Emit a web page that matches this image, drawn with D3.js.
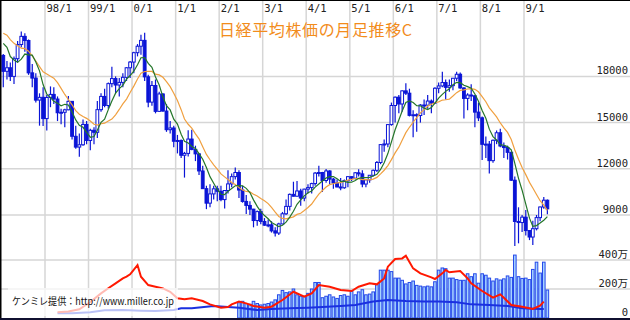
<!DOCTYPE html>
<html>
<head>
<meta charset="utf-8">
<script src="https://cdn.jsdelivr.net/npm/d3@7"></script>
<style>
  body { margin: 0; background: #fff; }
  svg { display: block; }
</style>
</head>
<body>
<svg id="chart" width="630" height="320"></svg>
<script>
// monthly candles, 1997/1 .. 2009/7 (last month still open)
var firstMonth = "1997/1";

var opens = [
  19360,18330,18560,18000,19150,20070,20600,20330,18230,17890,16460,16640,
  15260,16630,16830,16530,15640,15670,15830,16380,14110,13410,13560,14880,
  13840,14500,14370,15840,16700,16110,17530,17860,17440,17610,17940,18560,
  18930,19540,19960,20340,17970,16330,17410,15730,16860,15750,14540,14650,
  13790,13840,12880,13000,13930,13260,12970,11860,10710,9770,10370,10700,
  10540,10000,10590,11020,11490,11760,10620,9880,9620,9380,8640,9220,
  8580,8340,8360,7970,7830,8420,9080,9560,10340,10220,10560,10100,
  10680,10780,11040,11720,11760,11240,11860,11330,11080,10820,10770,11230,
  11490,11390,11740,11670,11010,11280,11580,11900,12410,13570,13610,14870,
  16110,16650,16210,17060,16910,15470,15510,15460,16140,16130,16400,16270,
  17230,17380,17600,17290,17400,17880,18140,17250,16570,16790,16740,15680,
  15310,13590,13600,12530,13850,14340,13480,13380,13070,11260,8580,8510,
  8860,7990,7570,8110,8830,9520,9960
];
var highs = [
  19450,19000,18900,19300,20300,20910,20800,20400,18800,18200,16900,17300,
  16800,17350,17300,16700,15900,15900,16730,16400,14800,14300,15200,15100,
  14600,14700,16400,16900,17200,17600,18620,18000,17900,18200,18600,19000,
  19600,20100,20700,20830,18100,17700,17800,17000,16900,16200,15100,14800,
  14200,13900,13100,14500,14530,13500,13000,12200,10900,11000,10900,10900,
  10900,10600,11900,11700,12080,11900,10900,10300,9900,9400,9300,9400,
  8800,8700,8600,8200,8500,9200,10000,10400,11160,11200,10700,10700,
  11000,11100,11800,12200,11800,11990,11900,11400,11300,11400,11300,11500,
  11500,11800,11970,11900,11300,11600,11950,12500,13600,13900,14900,16300,
  16700,16800,17100,17560,17200,15800,15600,16200,16500,16800,16500,17300,
  17600,18300,17800,17800,17900,18300,18260,17300,16900,17490,16800,16300,
  15400,14100,13800,13900,14490,14600,13700,13500,13100,11500,9500,9000,
  9330,8000,8630,9000,9560,10170,10000
];
var lows = [
  17300,17800,17700,17500,18900,19900,19600,18100,17300,16300,14800,14780,
  14490,16000,16200,15100,14900,14700,15800,13900,13300,12790,13500,13600,
  13200,13600,14000,15700,16000,15900,17300,16900,16700,17300,17700,17900,
  18200,19300,19400,17700,16000,16100,15600,15700,15700,14400,14300,13400,
  13000,12700,11430,12800,13200,12500,11600,10700,9380,9500,10000,9900,
  9900,9420,10400,10800,11300,10100,9800,9070,9000,8200,8300,8400,
  8300,8200,7860,7600,7700,8400,9000,9300,10200,10200,9600,9900,
  10400,10400,10900,11500,10500,11100,11000,10700,10800,10600,10700,10800,
  11200,11300,11500,10800,10800,11100,11500,11800,12300,13100,13400,14800,
  15000,15600,15700,16800,15400,14050,14400,15000,15500,15900,15600,16200,
  16900,17300,16500,17000,17100,17700,17200,15270,15800,16400,14700,15100,
  12570,12700,11690,12400,13600,13400,12700,12600,11200,6990,7160,7900,
  7670,7370,7050,8000,8600,9400,9050
];
var closes = [
  18330,18560,18000,19150,20070,20600,20330,18230,17890,16460,16640,15260,
  16630,16830,16530,15640,15670,15830,16380,14110,13410,13560,14880,13840,
  14500,14370,15840,16700,16110,17530,17860,17440,17610,17940,18560,18930,
  19540,19960,20340,17970,16330,17410,15730,16860,15750,14540,14650,13790,
  13840,12880,13000,13930,13260,12970,11860,10710,9770,10370,10700,10540,
  10000,10590,11020,11490,11760,10620,9880,9620,9380,8640,9220,8580,
  8340,8360,7970,7830,8420,9080,9560,10340,10220,10560,10100,10680,
  10780,11040,11720,11760,11240,11860,11330,11080,10820,10770,11230,11490,
  11390,11740,11670,11010,11280,11580,11900,12410,13570,13610,14870,16110,
  16650,16210,17060,16910,15470,15510,15460,16140,16130,16400,16270,17230,
  17380,17600,17290,17400,17880,18140,17250,16570,16790,16740,15680,15310,
  13590,13600,12530,13850,14340,13480,13380,13070,11260,8580,8510,8860,
  7990,7570,8110,8830,9520,9960,9400
];
// closes of 1996/2..1996/12, only used to start the moving averages
var priorCloses = [20125,21407,22041,21956,22531,20693,20167,21556,20466,21020,19361];

// volume bars (万), 2002/6 .. 2009/7
var volFirstMonth = "2002/6";
var volumes = [
  105,115,100,95,115,100,90,
  95,100,110,125,160,190,175,180,200,160,150,150,
  170,200,245,245,140,150,160,145,135,155,160,150,
  185,160,180,195,160,165,180,230,330,330,330,320,
  275,275,260,235,245,255,225,220,215,220,215,250,
  330,345,340,275,275,265,260,260,305,285,305,240,
  305,295,275,255,270,262,270,290,280,434,285,273,
  275,265,335,385,310,385,193
];

// red line in the lower panel
var redMonths = ["1998/4","1998/7","1998/10","1999/1","1999/4","1999/6","1999/8","1999/10","1999/11","1999/12",
  "2000/2","2000/3","2000/5","2000/7","2000/9","2000/11","2001/1","2001/3","2001/5","2001/8","2001/10",
  "2002/1","2002/3","2002/4","2002/6","2002/8","2002/10","2003/1","2003/3","2003/6","2003/9","2003/12",
  "2004/2","2004/4","2004/7","2004/10","2005/1","2005/3","2005/6","2005/8","2005/10","2005/11",
  "2006/1","2006/3","2006/4","2006/6","2006/8","2006/11","2006/12","2007/2","2007/3","2007/4","2007/7",
  "2007/9","2007/10","2008/1","2008/4","2008/6","2008/7","2008/9","2008/12","2009/3","2009/5","2009/6"];
var redValues = [40,45,60,110,170,205,239,273,285,301,
  365,285,227,216,204,181,136,129,136,117,94,
  71,76,94,113,101,83,71,78,124,181,147,
  170,227,216,193,186,216,239,232,273,354,
  407,411,430,342,308,280,269,308,331,315,324,
  273,239,186,140,163,140,90,78,62,85,113];

// blue line in the lower panel
var blueMonths = ["1998/4","1998/8","1999/1","1999/5","1999/10","2000/3","2000/7","2000/12","2001/2","2001/5",
  "2001/9","2001/11","2002/3","2002/6","2002/11","2003/3","2003/8","2004/1","2004/5","2004/10","2005/2",
  "2005/7","2005/11","2006/4","2006/9","2007/1","2007/6","2007/10","2008/3","2008/8","2008/12","2009/5","2009/6"];
var blueValues = [32,32,39,53,55,50,48,55,67,67,
  78,83,76,71,55,62,67,71,76,83,90,
  113,124,117,113,113,108,94,90,83,67,62,62];

var xTicks = ["1998/1","1999/1","2000/1","2001/1","2002/1","2003/1","2004/1","2005/1","2006/1","2007/1","2008/1","2009/1"];
var xTickLabels = ["98/1","99/1","0/1","1/1","2/1","3/1","4/1","5/1","6/1","7/1","8/1","9/1"];
var priceTicks = [9000, 12000, 15000, 18000];
var volTicks = [0, 200, 400];
var volTickLabels = ["0", "200万", "400万"];

var title = "日経平均株価の月足推移C";
var credit = "ケンミレ提供：http://www.miller.co.jp";

var svg = d3.select("#chart"),
    width = +svg.attr("width"),
    height = +svg.attr("height");

var parseMonth = d3.timeParse("%Y/%m");
var mid = function(d) { return d3.timeDay.offset(d, 15); };

var x = d3.scaleTime()
    .domain([new Date(1998, 0, 1), new Date(2009, 0, 1)])
    .range([45, 524]);
var y = d3.scaleLinear().domain([9000, 18000]).range([215, 76.4]);
var yv = d3.scaleLinear().domain([0, 400]).range([318, 260]);

var blue = "#0a14d6";

var candles = closes.map(function(c, i) {
  return { date: mid(d3.timeMonth.offset(parseMonth(firstMonth), i)),
           o: opens[i], h: highs[i], l: lows[i], c: c };
});

// moving averages (6 and 12 months) of the close
var allCloses = priorCloses.concat(closes);
function movingAvg(n) {
  return candles.map(function(d, i) {
    var k = i + priorCloses.length;
    return { date: d.date, v: d3.mean(allCloses.slice(k - n + 1, k + 1)) };
  });
}

svg.append("rect").attr("width", width).attr("height", height).attr("fill", "#fff");

// grid
var grid = svg.append("g").attr("stroke", "#d6d6d6").attr("stroke-width", 1.5);
grid.selectAll(".vx").data(xTicks).enter().append("line")
    .attr("x1", function(d) { return x(parseMonth(d)); })
    .attr("x2", function(d) { return x(parseMonth(d)); })
    .attr("y1", 0).attr("y2", height);
grid.selectAll(".hy").data(priceTicks).enter().append("line")
    .attr("x1", 0).attr("x2", width)
    .attr("y1", function(d) { return y(d); }).attr("y2", function(d) { return y(d); });
grid.selectAll(".hv").data(volTicks.slice(1)).enter().append("line")
    .attr("x1", 0).attr("x2", width)
    .attr("y1", function(d) { return yv(d); }).attr("y2", function(d) { return yv(d); });

var tickFont = "'DejaVu Sans Mono', monospace";
svg.append("g").selectAll("text").data(xTicks).enter().append("text")
    .attr("x", function(d) { return x(parseMonth(d)) + 1.5; })
    .attr("y", 12)
    .attr("font-family", tickFont).attr("font-size", 10.5).attr("fill", "#222")
    .text(function(d, i) { return xTickLabels[i]; });

svg.append("g").selectAll("text").data(priceTicks).enter().append("text")
    .attr("x", 628).attr("y", function(d) { return y(d) - 2; })
    .attr("text-anchor", "end")
    .attr("font-family", tickFont).attr("font-size", 10.5).attr("fill", "#222")
    .text(function(d) { return d; });

svg.append("g").selectAll("text").data(volTicks).enter().append("text")
    .attr("x", 628).attr("y", function(d) { return d === 0 ? 316 : yv(d) - 2; })
    .attr("text-anchor", "end")
    .attr("font-family", "'DejaVu Sans Mono', 'Noto Sans CJK JP', monospace")
    .attr("font-size", 10.5).attr("fill", "#222")
    .text(function(d, i) { return volTickLabels[i]; });

// candles
var cg = svg.append("g");
cg.selectAll("line").data(candles).enter().append("line")
    .attr("x1", function(d) { return x(d.date); })
    .attr("x2", function(d) { return x(d.date); })
    .attr("y1", function(d) { return y(d.h); })
    .attr("y2", function(d) { return y(d.l); })
    .attr("stroke", blue).attr("stroke-width", 1.2);
cg.selectAll("rect").data(candles).enter().append("rect")
    .attr("x", function(d) { return x(d.date) - 1.4; })
    .attr("width", 2.8)
    .attr("y", function(d) { return y(Math.max(d.o, d.c)); })
    .attr("height", function(d) { return Math.max(1, Math.abs(y(d.o) - y(d.c))); })
    .attr("fill", function(d) { return d.c >= d.o ? "#fff" : blue; })
    .attr("stroke", blue).attr("stroke-width", 1);

// moving average lines
var maLine = d3.line().x(function(d) { return x(d.date); }).y(function(d) { return y(d.v); });
svg.append("path").datum(movingAvg(12)).attr("d", maLine)
    .attr("fill", "none").attr("stroke", "#f0a040").attr("stroke-width", 1.2);
svg.append("path").datum(movingAvg(6)).attr("d", maLine)
    .attr("fill", "none").attr("stroke", "#24762a").attr("stroke-width", 1.2);

// volume bars
var vols = volumes.map(function(v, i) {
  return { date: mid(d3.timeMonth.offset(parseMonth(volFirstMonth), i)), v: v };
});
svg.append("g").selectAll("rect").data(vols).enter().append("rect")
    .attr("x", function(d) { return x(d.date) - 1.3; })
    .attr("width", 2.6)
    .attr("y", function(d) { return yv(d.v); })
    .attr("height", function(d) { return yv(0) - yv(d.v); })
    .attr("fill", "#a6d2ff").attr("stroke", "#2448ea").attr("stroke-width", 1);

var vLine = d3.line()
    .x(function(d) { return x(mid(parseMonth(d[0]))); })
    .y(function(d) { return yv(d[1]); });
svg.append("path").datum(d3.zip(blueMonths, blueValues)).attr("d", vLine)
    .attr("fill", "none").attr("stroke", "#1a30e0").attr("stroke-width", 2);
svg.append("path").datum(d3.zip(redMonths, redValues)).attr("d", vLine)
    .attr("fill", "none").attr("stroke", "#ff1800").attr("stroke-width", 2);

// credit box
svg.append("rect").attr("x", 8).attr("y", 288).attr("width", 170).attr("height", 28)
    .attr("fill", "#fff").attr("opacity", 0.7);
svg.append("text").attr("x", 12).attr("y", 305)
    .attr("font-family", "'Noto Sans CJK JP', sans-serif").attr("font-size", 10)
    .attr("textLength", 162).attr("lengthAdjust", "spacingAndGlyphs")
    .attr("fill", "#111").text(credit);

// title
svg.append("text").attr("x", 219).attr("y", 36)
    .attr("font-family", "'Noto Sans CJK JP', sans-serif").attr("font-size", 16)
    .attr("textLength", 193).attr("fill", "#f28c1c").text(title);

// frame
svg.append("line").attr("x1", 0.75).attr("x2", 0.75).attr("y1", 0).attr("y2", height)
    .attr("stroke", "#000").attr("stroke-width", 1.5);
svg.append("line").attr("x1", 0).attr("x2", width).attr("y1", 0.5).attr("y2", 0.5)
    .attr("stroke", "#000").attr("stroke-width", 1);
svg.append("line").attr("x1", 0).attr("x2", width).attr("y1", 319).attr("y2", 319)
    .attr("stroke", "#101030").attr("stroke-width", 2);
</script>
</body>
</html>
